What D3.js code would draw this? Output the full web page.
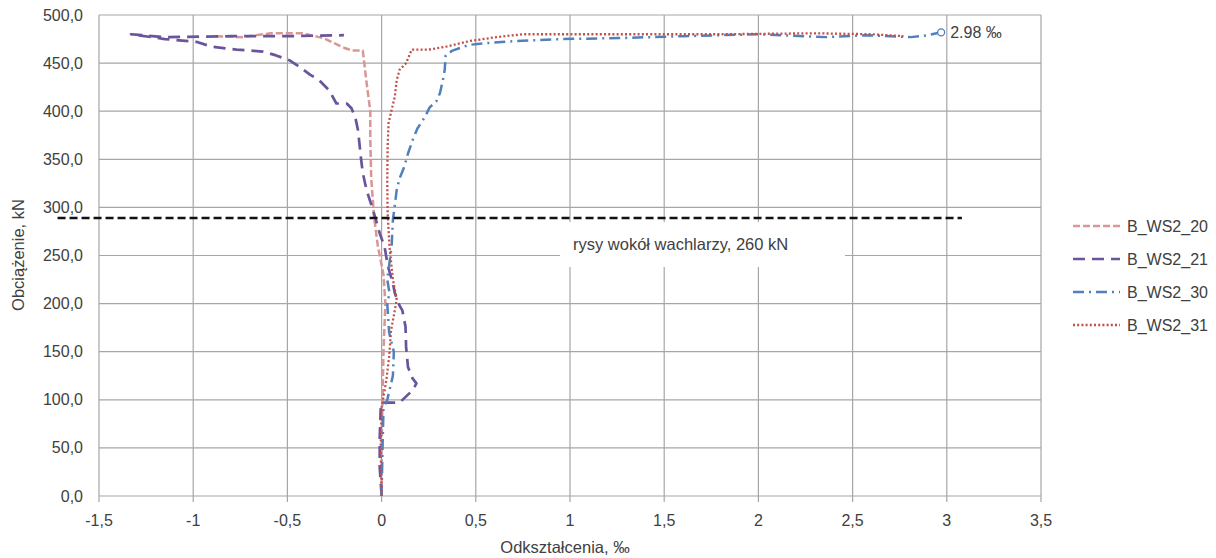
<!DOCTYPE html>
<html><head><meta charset="utf-8">
<script src="https://cdn.jsdelivr.net/npm/d3@7"></script>
<style>
html,body{margin:0;padding:0;background:#fff;}
svg text{font-family:"Liberation Sans",Arial,sans-serif;fill:#404040;}
</style></head>
<body><svg id="c" width="1216" height="558"></svg>
<script>
// ---- data ----
const seriesNames = ["B_WS2_20", "B_WS2_21", "B_WS2_30", "B_WS2_31"];
const xTickValues = [-1.5, -1, -0.5, 0, 0.5, 1, 1.5, 2, 2.5, 3, 3.5];
const xTickLabels = ["-1,5", "-1", "-0,5", "0", "0,5", "1", "1,5", "2", "2,5", "3", "3,5"];
const yTickValues = [0, 50, 100, 150, 200, 250, 300, 350, 400, 450, 500];
const yTickLabels = ["0,0", "50,0", "100,0", "150,0", "200,0", "250,0", "300,0", "350,0", "400,0", "450,0", "500,0"];

const ws20Strain = [0, 0, 0.005, 0.01, 0.02, 0.01, -0.02, -0.04, -0.055, -0.06, -0.06, -0.08, -0.095, -0.10, -0.155, -0.2, -0.31, -0.42, -0.59, -0.74, -0.88];
const ws20Load   = [0, 50, 100, 150, 200, 230, 260, 290, 330, 370, 400, 430, 455, 463, 463, 466, 476, 481, 481, 477, 478];

const ws21Strain = [0, -0.01, -0.01, -0.005, 0, 0.095, 0.165, 0.185, 0.165, 0.14, 0.13, 0.127, 0.11, 0.095, 0.07, 0.06, 0.032, 0.016, -0.01, -0.03, -0.05, -0.08, -0.1, -0.11, -0.125, -0.14, -0.16, -0.185, -0.24, -0.265, -0.28, -0.33, -0.38, -0.45, -0.49, -0.56, -0.63, -0.77, -0.9, -0.98, -1.15, -1.33, -1.15, -0.8, -0.5, -0.2];
const ws21Load   = [0, 30, 60, 90, 97, 97, 110, 117, 122, 134, 155, 176, 193, 198, 211, 221, 240, 259, 273, 287, 300, 318, 336, 352, 380, 394, 403, 408, 408, 417, 422, 432, 438, 448, 453, 458, 462, 464, 467, 472, 475, 480, 477, 478, 478, 479];

const ws30Strain = [0, 0.005, 0.01, 0.03, 0.06, 0.065, 0.04, 0.03, 0.042, 0.03, 0.053, 0.06, 0.07, 0.08, 0.095, 0.12, 0.14, 0.165, 0.19, 0.23, 0.255, 0.29, 0.31, 0.325, 0.335, 0.34, 0.376, 0.466, 0.57, 0.715, 0.96, 1.26, 1.6, 2.0, 2.36, 2.57, 2.81, 2.9, 2.97];
const ws30Load   = [0, 50, 90, 100, 125, 150, 170, 200, 211, 225, 259, 287, 302, 318, 330, 342, 356, 370, 382, 394, 404, 410, 419, 432, 443, 458, 463, 469, 471, 473, 475, 476, 478, 480, 477, 479, 477, 479, 482];

const ws31Strain = [0, -0.005, 0, 0.025, 0.04, 0.05, 0.07, 0.08, 0.06, 0.042, 0.032, 0.03, 0.032, 0.037, 0.053, 0.07, 0.08, 0.095, 0.13, 0.16, 0.25, 0.34, 0.47, 0.61, 0.75, 1.2, 1.8, 2.3, 2.6, 2.77];
const ws31Load   = [0, 50, 92, 120, 145, 172, 193, 204, 225, 259, 294, 328, 363, 388, 401, 415, 432, 443, 450, 464, 464, 467, 473, 477, 480, 480, 480, 481, 480, 478];

const crackLineStrain = [-1.72, 3.08];
const crackLineLoad = [289, 289];
const crackLabel = "rysy wokół wachlarzy, 260 kN";
const endLabel = "2.98 ‰";
const xTitle = "Odkształcenia, ‰";
const yTitle = "Obciążenie, kN";

// ---- drawing ----
const svg = d3.select("#c");
const x = d3.scaleLinear().domain([-1.5, 3.5]).range([99, 1041]);
const y = d3.scaleLinear().domain([0, 500]).range([496, 15]);

const grid = svg.append("g");
grid.selectAll("line.h").data(yTickValues).join("line")
  .attr("x1", x(-1.5)).attr("x2", x(3.5))
  .attr("y1", d => y(d)).attr("y2", d => y(d))
  .attr("stroke", "#a6a6a6").attr("stroke-width", 1.2);
grid.selectAll("line.v").data(xTickValues).join("line")
  .attr("x1", d => x(d)).attr("x2", d => x(d))
  .attr("y1", y(500)).attr("y2", y(0) + 6)
  .attr("stroke", "#a6a6a6").attr("stroke-width", 1.2);

// y tick labels
svg.append("g").selectAll("text").data(yTickValues).join("text")
  .attr("x", 83).attr("y", d => y(d) + 5.5)
  .attr("text-anchor", "end").attr("font-size", 16)
  .text((d, i) => yTickLabels[i]);
// x tick labels
svg.append("g").selectAll("text").data(xTickValues).join("text")
  .attr("x", d => x(d)).attr("y", 526)
  .attr("text-anchor", "middle").attr("font-size", 16)
  .text((d, i) => xTickLabels[i]);

// titles
svg.append("text").attr("x", 565).attr("y", 553).attr("text-anchor", "middle")
  .attr("font-size", 16.5).text(xTitle);
svg.append("text").attr("transform", "translate(24,255) rotate(-90)")
  .attr("text-anchor", "middle").attr("font-size", 16.5).text(yTitle);

// annotation box
svg.append("rect").attr("x", 560).attr("y", 222).attr("width", 285).attr("height", 45).attr("fill", "#fff");
svg.append("text").attr("x", 573).attr("y", 250).attr("font-size", 16.5).text(crackLabel);

// series
const styles = [
  {color: "#d99694", dash: "7,3", w: 2.5},
  {color: "#6a559c", dash: "12,7", w: 2.7},
  {color: "#4f81bd", dash: "11,5,2,5", w: 2.5},
  {color: "#c0504d", dash: "2,2.2", w: 2.3}
];
const strains = [ws20Strain, ws21Strain, ws30Strain, ws31Strain];
const loads = [ws20Load, ws21Load, ws30Load, ws31Load];
const line = d3.line().x(d => x(d[0])).y(d => y(d[1]));
seriesNames.forEach((n, i) => {
  const pts = strains[i].map((s, j) => [s, loads[i][j]]);
  svg.append("path").datum(pts).attr("d", line)
    .attr("fill", "none").attr("stroke", styles[i].color)
    .attr("stroke-width", styles[i].w).attr("stroke-dasharray", styles[i].dash)
    .attr("stroke-linejoin", "round");
});

// end marker of B_WS2_30
const last = ws30Strain.length - 1;
svg.append("circle").attr("cx", x(ws30Strain[last])).attr("cy", y(ws30Load[last])).attr("r", 3.5)
  .attr("fill", "#fff").attr("stroke", "#4f81bd").attr("stroke-width", 1.3);
svg.append("text").attr("x", x(ws30Strain[last]) + 9).attr("y", y(ws30Load[last]) + 5.5)
  .attr("font-size", 16).text(endLabel);

// crack line
svg.append("path").datum(crackLineStrain.map((s, j) => [s, crackLineLoad[j]]))
  .attr("d", line).attr("fill", "none").attr("stroke", "#111")
  .attr("stroke-width", 2.3).attr("stroke-dasharray", "8,4");

// legend
const lg = svg.append("g");
seriesNames.forEach((n, i) => {
  const yy = 226 + i * 33;
  lg.append("line").attr("x1", 1073).attr("x2", 1120).attr("y1", yy).attr("y2", yy)
    .attr("stroke", styles[i].color).attr("stroke-width", styles[i].w)
    .attr("stroke-dasharray", styles[i].dash);
  lg.append("text").attr("x", 1127).attr("y", yy + 6).attr("font-size", 16).text(n);
});
</script></body></html>
